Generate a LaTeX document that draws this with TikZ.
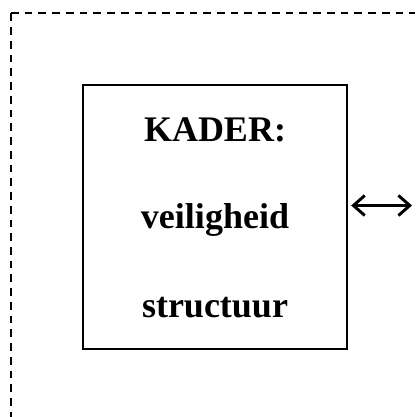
\documentclass[tikz,border=0pt]{standalone}
\usepackage{fontspec}
\setmainfont{Liberation Serif}
\usetikzlibrary{arrows.meta,positioning}

\begin{document}
\begin{tikzpicture}[
	x=0.75pt,y=-0.75pt,
	kaderbox/.style={
	  draw,
	  line width=1.3pt,
	  minimum width=198pt,
	  minimum height=198pt,
	  inner sep=0pt
	},
	woord/.style={
	  anchor=base,
	  inner sep=0pt,
	  font=\fontsize{27}{32}\selectfont\bfseries
	},
	rand/.style={
	  line width=1.5pt,
	  dash pattern=on 5.8pt off 4.5pt
	},
	pijl/.style={
	  line width=2.2pt,
	  {Straight Barb[length=8.5pt,width=15pt]}-{Straight Barb[length=8.5pt,width=15pt]}
	}
]
\useasboundingbox (0,0) rectangle (415,417);

% dashed frame
\coordinate (hoek) at (11,13.5);
\draw[rand] (hoek) -- (415,13.5);
\draw[rand] (hoek) -- (11,417);

% box
\node[kaderbox] (kader) at (215,217) {};

\node[woord] (titel) at (215,142) {KADER:};
\node[woord] (veil) at (215,228) {veiligheid};
\node[woord] (struc) at (215,317) {structuur};

% arrow to the right
\coordinate (buiten) at (412,205.5);
\draw[pijl] ([xshift=2.5pt]kader.east |- buiten) -- (buiten);

\end{tikzpicture}
\end{document}
